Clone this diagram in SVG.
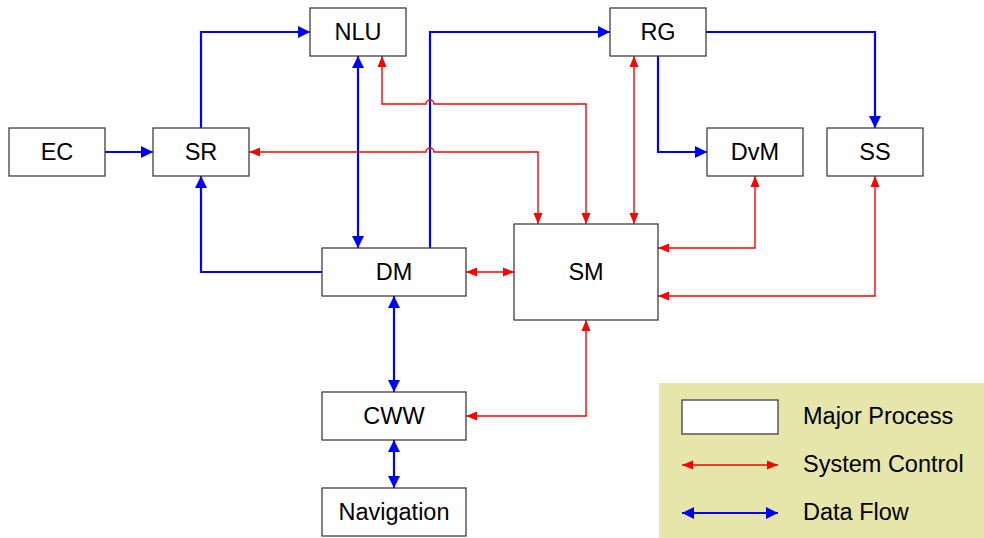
<svg xmlns="http://www.w3.org/2000/svg" width="984" height="538" viewBox="0 0 984 538">
<defs>
<marker id="ab" markerUnits="userSpaceOnUse" markerWidth="12" markerHeight="12" refX="12" refY="6" orient="auto-start-reverse"><path d="M0,0 L12,6 L0,12 z" fill="#0000FF"/></marker>
<marker id="ar" markerUnits="userSpaceOnUse" markerWidth="11" markerHeight="10" refX="11" refY="5" orient="auto-start-reverse"><path d="M0,0.5 L11,5 L0,9.5 z" fill="#FF0000"/></marker>
</defs>
<style>
.box{fill:#fff;stroke:#404040;stroke-width:1.3}
.lbl{font-family:"Liberation Sans",Arial,sans-serif;font-size:23.5px;fill:#000;text-anchor:middle}
.leg{font-family:"Liberation Sans",Arial,sans-serif;font-size:23.5px;fill:#000}
.b{fill:none;stroke:#0000FF;stroke-width:2.2}
.r{fill:none;stroke:#FF0000;stroke-width:1.4}
.b1{marker-end:url(#ab)}
.b2{marker-start:url(#ab);marker-end:url(#ab)}
.r2{marker-start:url(#ar);marker-end:url(#ar)}
</style>
<rect width="984" height="538" fill="#fff"/>
<g id="legend">
<rect x="659" y="383" width="325" height="155" fill="#E6E5AA"/>
<rect class="box" x="682" y="400" width="96" height="34"/>
<text class="leg" x="803" y="424">Major Process</text>
<path class="r r2" d="M682,465 H778"/>
<text class="leg" x="803" y="472">System Control</text>
<path class="b b2" d="M682,513 H778"/>
<text class="leg" x="803" y="520">Data Flow</text>
</g>
<g id="connectors">
<path class="b b1" d="M105,152 H153"/>
<path class="b b1" d="M201,128 V32 H310"/>
<path class="b b2" d="M358,56 V248"/>
<path class="b b1" d="M430,248 V32 H610"/>
<path class="b b1" d="M322,272 H201 V176"/>
<path class="b b1" d="M658,56 V152 H707"/>
<path class="b b1" d="M706,32 H875 V128"/>
<path class="b b2" d="M394,296 V392"/>
<path class="b b2" d="M394,440 V488"/>
<path class="r r2" d="M382,56 V104 H426 A4,4 0 0 1 434,104 H586 V224"/>
<path class="r r2" d="M249,152 H426 A4,4 0 0 1 434,152 H538 V224"/>
<path class="r r2" d="M634,56 V224"/>
<path class="r r2" d="M755,176 V248 H658"/>
<path class="r r2" d="M875,176 V296 H658"/>
<path class="r r2" d="M466,272 H514"/>
<path class="r r2" d="M466,416 H586 V320"/>
</g>
<g id="EC"><rect class="box" x="9" y="128" width="96" height="48"/><text class="lbl" x="57" y="160">EC</text></g>
<g id="SR"><rect class="box" x="153" y="128" width="96" height="48"/><text class="lbl" x="201" y="160">SR</text></g>
<g id="NLU"><rect class="box" x="310" y="8" width="96" height="48"/><text class="lbl" x="358" y="40">NLU</text></g>
<g id="RG"><rect class="box" x="610" y="8" width="96" height="48"/><text class="lbl" x="658" y="40">RG</text></g>
<g id="DvM"><rect class="box" x="707" y="128" width="96" height="48"/><text class="lbl" x="755" y="160">DvM</text></g>
<g id="SS"><rect class="box" x="827" y="128" width="96" height="48"/><text class="lbl" x="875" y="160">SS</text></g>
<g id="DM"><rect class="box" x="322" y="248" width="144" height="48"/><text class="lbl" x="394" y="280">DM</text></g>
<g id="SM"><rect class="box" x="514" y="224" width="144" height="96"/><text class="lbl" x="586" y="280">SM</text></g>
<g id="CWW"><rect class="box" x="322" y="392" width="144" height="48"/><text class="lbl" x="394" y="424">CWW</text></g>
<g id="Navigation"><rect class="box" x="322" y="488" width="144" height="48"/><text class="lbl" x="394" y="520">Navigation</text></g>
</svg>
